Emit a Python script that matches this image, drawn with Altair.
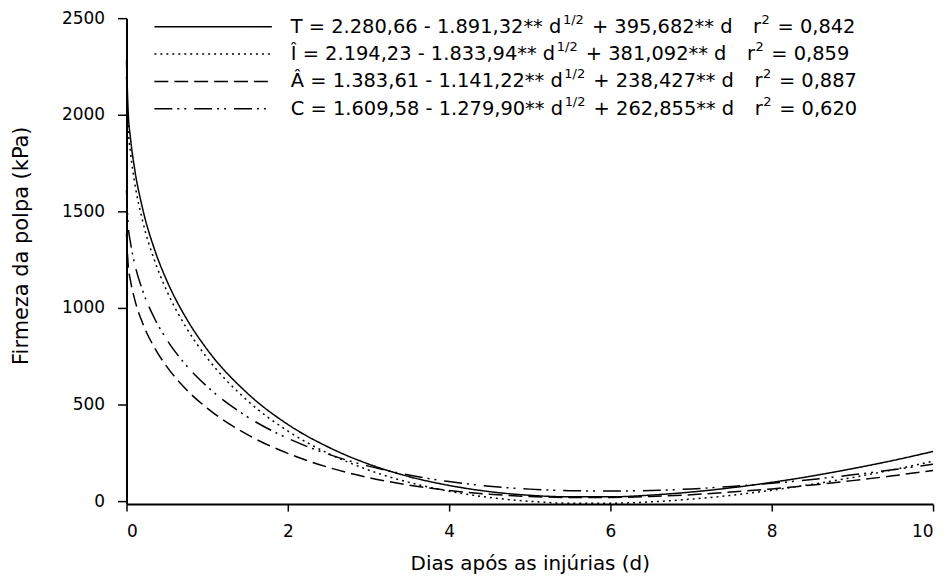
import altair as alt
import pandas as pd

# ---------------- data ----------------
days = [0, 0.02, 0.05, 0.1, 0.2, 0.35, 0.5, 0.75, 1, 1.5, 2, 2.5, 3, 3.5, 4,
        4.5, 5, 5.5, 6, 6.5, 7, 7.5, 8, 8.5, 9, 9.5, 10]
firm_T = [2281, 2021, 1878, 1722, 1514, 1300, 1141, 940, 785, 558, 397, 280, 192, 127, 81,
          49, 30, 22, 22, 31, 47, 69, 97, 130, 168, 210, 257]
firm_I = [2194, 1943, 1803, 1652, 1450, 1243, 1088, 892, 741, 520, 363, 247, 161, 97, 51,
          19, -1, -11, -11, -4, 10, 30, 56, 87, 122, 162, 206]
firm_A = [1384, 1227, 1140, 1047, 921, 792, 696, 574, 481, 344, 247, 175, 122, 83, 55,
          36, 24, 19, 19, 24, 33, 47, 63, 83, 106, 131, 159]
firm_C = [1610, 1434, 1337, 1231, 1090, 944, 836, 698, 593, 436, 325, 243, 181, 135, 101,
          77, 62, 54, 52, 55, 63, 76, 92, 112, 136, 162, 191]

series_names = ["T", "Î", "Â", "C"]
coef_a = ["2.280,66", "2.194,23", "1.383,61", "1.609,58"]
coef_b = ["1.891,32", "1.833,94", "1.141,22", "1.279,90"]
coef_c = ["395,682", "381,092", "238,427", "262,855"]
r2_vals = ["0,842", "0,859", "0,887", "0,620"]

x_ticks = [0, 2, 4, 6, 8, 10]
y_ticks = [0, 500, 1000, 1500, 2000, 2500]

# ---------------- styling ----------------
FONT = "DejaVu Sans"
dash_range = [[1, 0], [2, 4], [14, 6], [18, 5, 2, 5, 2, 8]]

rows = []
for name, vals in zip(series_names, [firm_T, firm_I, firm_A, firm_C]):
    for d, v in zip(days, vals):
        rows.append({"d": d, "f": v, "s": name})
df = pd.DataFrame(rows)

lines = alt.Chart(df).mark_line(color="black", strokeWidth=1.5, interpolate="monotone").encode(
    x=alt.X("d:Q", scale=alt.Scale(domain=[0, 10], nice=False, zero=False),
            axis=alt.Axis(values=x_ticks, format="d", title="Dias após as injúrias (d)",
                          tickSize=7, labelPadding=13, titlePadding=14, titleFontSize=20)),
    y=alt.Y("f:Q", scale=alt.Scale(domain=[-15.5, 2500], nice=False, zero=False),
            axis=alt.Axis(values=y_ticks, format="d", title="Firmeza da polpa (kPa)",
                          tickSize=9, labelPadding=13, titlePadding=30, titleY=228)),
    strokeDash=alt.StrokeDash("s:N", scale=alt.Scale(domain=series_names, range=dash_range),
                              legend=None),
)

# ---------------- manual legend (layout only) ----------------
W = {' ': 318, '*': 500, '+': 838, ',': 318, '-': 361, '.': 318, '/': 337, '=': 838,
     'C': 698, 'T': 611, 'd': 635, 'r': 411, 'Î': 295, 'Â': 684}


def tw(s, size):
    return sum(W.get(ch, 636) for ch in s) * size / 1000.0


F_MAIN = 19.5
F_SUP = 13
row_y = [8.5, 36, 63.5, 91]
x_line0, x_line1 = 28, 146
x_text0 = 165

leg_lines = []
leg_text = []
for i, name in enumerate(series_names):
    y = row_y[i]
    leg_lines.append({"x1": x_line0, "x2": x_line1, "y": y, "s": name})
    x = x_text0
    seg1 = f"{name} = {coef_a[i]} - {coef_b[i]}** d"
    leg_text.append({"x": x, "y": y, "t": seg1, "fs": F_MAIN})
    x += tw(seg1, F_MAIN) + 1.5
    leg_text.append({"x": x, "y": y - 7, "t": "1/2", "fs": F_SUP})
    x += tw("1/2", F_SUP) + tw(" ", F_MAIN) + 2
    seg3 = f"+ {coef_c[i]}** d"
    leg_text.append({"x": x, "y": y, "t": seg3, "fs": F_MAIN})
    x += tw(seg3, F_MAIN) + tw("   ", F_MAIN) + 2
    leg_text.append({"x": x, "y": y, "t": "r", "fs": F_MAIN})
    x += tw("r", F_MAIN) + 0.5
    leg_text.append({"x": x, "y": y - 7, "t": "2", "fs": F_SUP})
    x += tw("2", F_SUP) + tw(" ", F_MAIN) + 1.5
    leg_text.append({"x": x, "y": y, "t": f"= {r2_vals[i]}", "fs": F_MAIN})

leg_rules = alt.Chart(pd.DataFrame(leg_lines)).mark_rule(color="black", strokeWidth=1.5).encode(
    x=alt.X("x1:Q", scale=None, axis=None),
    x2="x2:Q",
    y=alt.Y("y:Q", scale=None, axis=None),
    strokeDash=alt.StrokeDash("s:N", scale=alt.Scale(domain=series_names, range=dash_range),
                              legend=None),
)

leg_texts = alt.Chart(pd.DataFrame(leg_text)).mark_text(
    align="left", baseline="middle", font=FONT, color="black").encode(
    x=alt.X("x:Q", scale=None, axis=None),
    y=alt.Y("y:Q", scale=None, axis=None),
    text="t:N",
    size=alt.Size("fs:Q", scale=None, legend=None),
)

chart = alt.layer(lines, leg_rules, leg_texts).resolve_scale(
    x="independent", y="independent"
).properties(
    width=810, height=488,
    autosize=alt.AutoSizeParams(type="none"),
    padding={"left": 119, "top": 9, "right": 10, "bottom": 72},
).configure_view(stroke="transparent").configure_axis(
    grid=False, domainColor="black", domainWidth=2, tickColor="black", tickWidth=1.5,
    labelColor="black", titleColor="black", labelFont=FONT, titleFont=FONT,
    labelFontSize=17, titleFontSize=21, titleFontWeight="normal",
)

chart.save("out.html", embed_options={"renderer": "svg", "actions": False})
